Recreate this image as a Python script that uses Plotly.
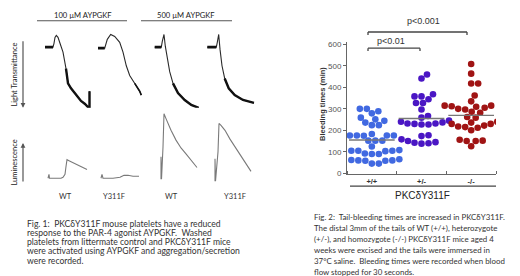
import plotly.graph_objects as go

W, H = 520, 276
def px(x): return x / W
def py(y): return 1 - y / H

# ---------------- Fig 2 data: bleeding times (min) ----------------
genotypes = ["<b>+/+</b>", "<b>+/-</b>", "<b>-/-</b>"]
bleed_wt = [300, 300, 289, 279, 259, 251, 244, 236, 224, 224,
            183, 176, 176, 176, 176, 175, 152, 152, 152, 125,
            108, 105, 105, 105, 103, 92, 90, 90, 65, 62, 60, 58, 58, 60, 45, 45]
bleed_het = [460, 441, 368, 358, 358, 345, 327, 327, 297, 267, 259,
             245, 240, 237, 232, 230, 227, 227, 232,
             177, 173, 158, 150, 145, 140, 138, 142]
bleed_hom = [509, 464, 418, 418, 362, 335, 315, 315, 312, 310, 305, 300, 297, 286, 282,
             262, 259, 240, 236, 230, 230, 222, 218, 215, 212, 200,
             156, 152, 150, 150, 126]
medians = [155, 255, 270]
y_ticks = [0, 100, 200, 300, 400, 500, 600]
dot_colors = ["#4169e1", "#4a16c4", "#a01414"]

# ---------------- Fig 1 data: aggregation (transmittance) and secretion ----------------
trace_labels = ["WT", "Y311F", "WT", "Y311F"]
dose_labels = ["100 \u00b5M AYPGKF", "500 \u00b5M AYPGKF"]

agg_t = [
    [2, 10, 11, 12, 13.3, 15, 17, 20, 23, 25, 28, 32, 38, 42, 45, 46.5, 46.5],
    [2, 8.7, 11.3, 14.7, 18.7, 23.7, 27, 30.3, 33.7, 38.7, 43.7, 45.3],
    [3.7, 10.3, 11.3, 13, 14.3, 16.3, 18.7, 22, 27, 33.7, 40.3, 47.7],
    [3.3, 12.3, 13.3, 14.7, 16, 18, 20.7, 24.7, 30.7, 39, 50],
]
agg_v = [
    [0, 0, -4, -10, -12, -10, -4, 5, 22, 37, 42, 47, 55, 58, 62, 63, 45],
    [1, 1, -8, -13, -11, -5, 5, 19, 29, 37, 45, 49],
    [0, 0, -6, -13, -1, 12, 25, 37, 47, 54, 59, 62],
    [0, 0, -5, -13, 2, 19, 32, 42, 49, 54, 57],
]
agg_noisy_from = [8, 9, 7, 6]

lum_t = [
    [5, 6, 6.5, 18, 20, 22, 23, 24, 26, 30, 35, 40, 44],
    [5, 6, 7, 17, 24, 28, 32, 37, 43],
    [10, 10, 10.5, 12, 13, 15, 20, 25, 30, 35, 39, 43, 46],
    [11, 11, 11.5, 14, 15, 17, 21, 26, 31, 35, 39, 43, 47],
]
lum_v = [
    [3, 7, 3, 3, 4, 7, 15, 22, 21, 19, 17, 14, 12],
    [3, 7, 3, 3, 4, 6, 6, 5, 5],
    [2, 25, 2, 35, 69, 64, 52, 42, 34, 28, 23, 18, 14],
    [0, 23, 0, 30, 59, 57, 52, 43, 35, 29, 23, 17, 10],
]

FONT_TXT = "Lato, 'Open Sans', sans-serif"
FONT_ARIAL = "Liberation Sans, Arial, sans-serif"

fig = go.Figure()

# ---------- Fig 1 panels: 4 columns, aggregation (top) + luminescence (bottom) ----------
col_left = [35, 88, 143, 196]
col_w = 52
layout_axes = {}
for i in range(4):
    xa_agg = 2 + 2 * i
    xa_lum = 3 + 2 * i
    for n, (ytop, ybot, rng) in ((xa_agg, (20, 108, [70, -18])), (xa_lum, (100, 180, [-5, 75]))):
        layout_axes[f"xaxis{n}"] = dict(domain=[px(col_left[i]), px(col_left[i] + col_w)],
                                         range=[0, col_w], visible=False, anchor=f"y{n}")
        layout_axes[f"yaxis{n}"] = dict(domain=[py(ybot), py(ytop)], range=rng,
                                         visible=False, anchor=f"x{n}")
    fig.add_trace(go.Scatter(x=agg_t[i], y=agg_v[i], mode="lines",
                             line=dict(color="#2a2a2a", width=1.1),
                             xaxis=f"x{xa_agg}", yaxis=f"y{xa_agg}", hoverinfo="skip"))
    k = agg_noisy_from[i]
    fig.add_trace(go.Scatter(x=agg_t[i][:2], y=agg_v[i][:2], mode="lines",
                             line=dict(color="#111111", width=2.8),
                             xaxis=f"x{xa_agg}", yaxis=f"y{xa_agg}", hoverinfo="skip"))
    fig.add_trace(go.Scatter(x=agg_t[i][k:], y=agg_v[i][k:], mode="lines",
                             line=dict(color="#111111", width=2.4 if i != 1 else 1.6),
                             xaxis=f"x{xa_agg}", yaxis=f"y{xa_agg}", hoverinfo="skip"))
    fig.add_trace(go.Scatter(x=lum_t[i], y=lum_v[i], mode="lines",
                             line=dict(color="#7a7a7a", width=1.1),
                             xaxis=f"x{xa_lum}", yaxis=f"y{xa_lum}", hoverinfo="skip"))

# ---------- Fig 2 dot plot ----------
XS = 149 / 3.0      # px per category unit
YS = 135 / 615.0    # px per minute
D = 6.6             # marker diameter px

def swarm(values):
    placed = []
    offs = [0.0] * len(values)
    order = sorted(range(len(values)), key=lambda j: values[j])
    cands = [0.0]
    for s in range(1, 160):
        cands += [s * 0.5, -s * 0.5]
    for j in order:
        yv = values[j] * YS
        for c in cands:
            if all((c - a) ** 2 + (yv - b) ** 2 >= (D * 1.02) ** 2 for a, b in placed):
                placed.append((c, yv))
                offs[j] = c / XS
                break
    return offs

for g, vals in enumerate([bleed_wt, bleed_het, bleed_hom]):
    offs = swarm(vals)
    fig.add_trace(go.Scatter(x=[g + o for o in offs], y=vals, mode="markers",
                             marker=dict(size=D, color=dot_colors[g], line=dict(width=0)),
                             xaxis="x", yaxis="y", hoverinfo="skip"))
    fig.add_trace(go.Scatter(x=[g - 0.46, g + 0.46], y=[medians[g], medians[g]], mode="lines",
                             line=dict(color="#777777", width=1.3),
                             xaxis="x", yaxis="y", hoverinfo="skip"))

axis_col = "#666666"
fig.update_layout(
    width=W, height=H, margin=dict(l=0, r=0, t=0, b=0),
    paper_bgcolor="white", plot_bgcolor="white", showlegend=False,
    xaxis=dict(domain=[px(339), px(488)], range=[-0.5, 2.5], tickvals=[0, 1, 2],
               ticktext=genotypes, ticks="", showgrid=False, zeroline=False,
               showline=True, linecolor=axis_col, linewidth=1,
               tickfont=dict(family=FONT_ARIAL, size=7.5, color="#333333"),
               minor=dict(tickvals=[-0.5, 0.5, 1.5, 2.5], ticks="inside", ticklen=3,
                          tickcolor=axis_col, showgrid=False),
               anchor="y", fixedrange=True),
    yaxis=dict(domain=[py(168), py(33)], range=[-5, 610], tickvals=y_ticks,
               ticks="outside", ticklen=3, tickcolor=axis_col, showgrid=False,
               zeroline=False, showline=True, linecolor=axis_col, linewidth=1,
               tickfont=dict(family=FONT_ARIAL, size=8, color="#555555"),
               anchor="x", fixedrange=True),
    **layout_axes,
)

ann = []
shapes = []
def text(x, y, s, size, color="#222222", family=FONT_TXT, angle=0, xanchor="center"):
    ann.append(dict(x=px(x), y=py(y), xref="paper", yref="paper", text=s, showarrow=False,
                    font=dict(family=family, size=size, color=color), textangle=angle,
                    xanchor=xanchor, yanchor="middle"))
def line(x0, y0, x1, y1, color="#555555", width=1):
    shapes.append(dict(type="line", xref="paper", yref="paper", x0=px(x0), y0=py(y0),
                       x1=px(x1), y1=py(y1), line=dict(color=color, width=width)))

text(75, 5, dose_labels[0], 7.6)
text(178, 5, dose_labels[1], 7.6)
line(29, 11, 119, 11, "#555555", 1)
line(133, 11, 224, 11, "#555555", 1)
text(7, 66, "Light Transmittance", 7.5, angle=-90)
text(7, 156, "Luminescence", 7.5, angle=-90)
ann.append(dict(x=px(15), y=py(100), xref="paper", yref="paper", ax=0, ay=-68,
                showarrow=True, arrowhead=2, arrowsize=0.8, arrowwidth=1.2,
                arrowcolor="#555555", text=""))
ann.append(dict(x=px(15), y=py(136), xref="paper", yref="paper", ax=0, ay=40,
                showarrow=True, arrowhead=2, arrowsize=0.8, arrowwidth=1.2,
                arrowcolor="#555555", text=""))
for xx, lab in zip([57, 106, 163, 227], trace_labels):
    text(xx, 191, lab, 7.5, "#333333")

fig1_caption = [
    "Fig. 1:  PKC\u03b4Y311F mouse platelets have a reduced",
    "response to the PAR-4 agonist AYPGKF.  Washed",
    "platelets from littermate control and PKC\u03b4Y311F mice",
    "were activated using AYPGKF and aggregation/secretion",
    "were recorded.",
]
for k, s in enumerate(fig1_caption):
    text(16.5, 218.3 + 9.5 * k, s, 8.6, "#333333", xanchor="left")

fig2_caption = [
    "Fig. 2:  Tail-bleeding times are increased in PKC\u03b4Y311F.",
    "The distal 3mm of the tails of WT (+/+), heterozygote",
    "(+/-), and homozygote (-/-) PKC\u03b4Y311F mice aged 4",
    "weeks were excised and the tails were immersed in",
    "37\u00b0C saline.  Bleeding times were recorded when blood",
    "flow stopped for 30 seconds.",
]
for k, s in enumerate(fig2_caption):
    text(304, 212 + 11.1 * k, s, 7.9, "#333333", xanchor="left")

text(315, 96, "<b>Bleeding times (min)</b>", 7.5, "#333333", family=FONT_ARIAL, angle=-90)
text(414, 190, "PKC\u03b4Y311F", 10, "#222222", family=FONT_ARIAL)
line(342, 180, 488, 180, "#444444", 1.3)
text(415, 11, "p<0.001", 9, "#333333", family=FONT_ARIAL)
text(383, 32, "p<0.01", 9, "#333333", family=FONT_ARIAL)
for (x0, x1, yb) in [(360, 459, 22.5), (360, 412, 39)]:
    line(x0, yb, x1, yb, "#444444", 1.3)
    line(x0, yb, x0, yb + 3, "#444444", 1.3)
    line(x1, yb, x1, yb + 3, "#444444", 1.3)

fig.update_layout(annotations=ann, shapes=shapes)
fig.write_html("out.html", config=dict(displayModeBar=False, staticPlot=True))
